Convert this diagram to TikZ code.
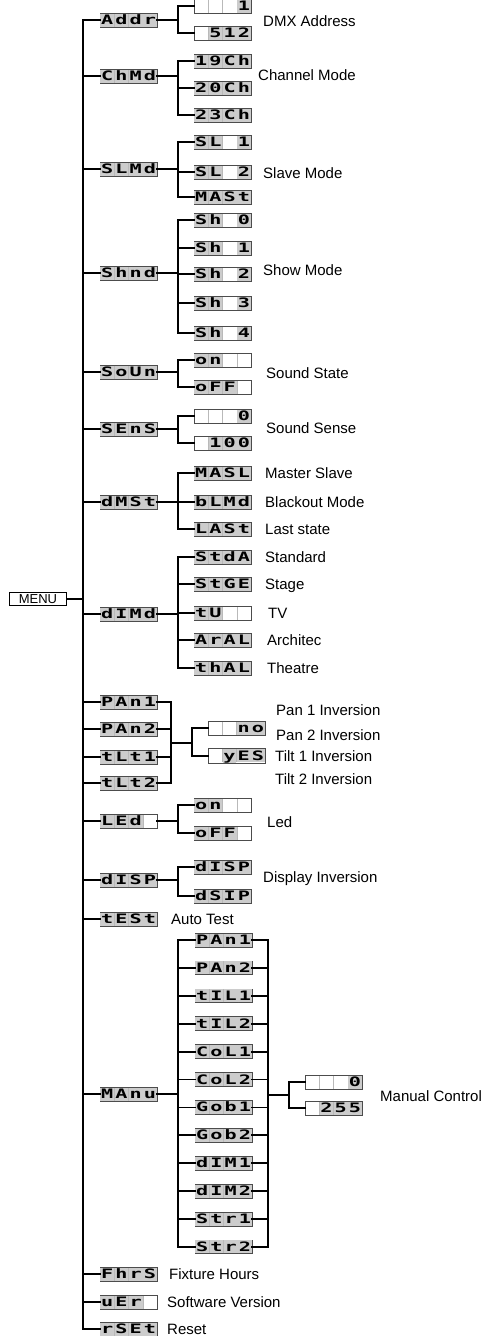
\documentclass[tikz,border=0pt]{standalone}
\usepackage{fontspec}
\usepackage{graphicx}
\setmainfont{Liberation Sans}
\newfontfamily\lcdfont{DejaVu Sans Mono}
\colorlet{lcdbg}{gray!40}

% one display cell, '-' stands for an empty cell
\newcommand{\lcdblank}{\makebox[13.7pt]{\rule[-2pt]{0pt}{13pt}}}
\newcommand{\lcdfull}[1]{{\setlength{\fboxsep}{0pt}\colorbox{lcdbg}{\makebox[13.7pt]{\rule[-2pt]{0pt}{13pt}\lcdfont\bfseries\fontsize{13}{13}\selectfont\scalebox{1.55}[1]{#1}}}}}
\newcommand{\lcdcell}[1]{\ifx-#1\lcdblank\else\lcdfull{#1}\fi}
\newcommand{\lcdsep}{{\color{gray!55}\vrule width 0.5pt height 11pt depth 2pt}}
\newcommand{\lcd}[4]{\lcdcell{#1}\lcdsep\lcdcell{#2}\lcdsep\lcdcell{#3}\lcdsep\lcdcell{#4}}

\tikzset{
  lcd/.style={draw=gray!60!black, line width=0.8pt, inner sep=0.4pt, outer sep=0pt, anchor=west},
  menubox/.style={draw, line width=0.8pt, minimum width=57pt, minimum height=12.5pt, inner sep=0pt,
    font=\fontsize{13}{13}\selectfont, anchor=west},
  wire/.style={line width=1.8pt, line cap=rect},
  lbl/.style={anchor=west, inner sep=0pt, text height=11pt, text depth=0pt,
    font=\fontsize{15}{18}\selectfont},
}

\begin{document}
\begin{tikzpicture}[x=1pt, y=-1pt]
\useasboundingbox (0,0) rectangle (485,1336);
\coordinate (trunk) at (83,0);
\coordinate (bra) at (178,0);

% Menu entry
\node[menubox] (menu) at (9,599) {MENU};

% First level of the menu
\foreach \nm/\yy/\txt in {addr/20/Addr, chmd/76/ChMd, slmd/169/SLMd, shmd/273/Shnd,
  soun/372/SoUn, sens/429/SEnS, dmst/502/dMSt, dimd/614/dIMd, pan1/702/PAn1,
  pan2/729/PAn2, tlt1/757/tLt1, tlt2/783/tLt2, led/821/LEd-, disp/880/dISP,
  test/919/tESt, manu/1094/MAnu, fhrs/1274/FhrS, ver/1302/uEr-, rset/1329/rSEt}
  \node[lcd] (\nm) at (100,\yy) {\expandafter\lcd\txt};

% Main trunk
\draw[wire] (addr.west -| trunk) -- (rset.west -| trunk);
\draw[wire] (menu.east) -- (menu.east -| trunk);
\foreach \nm in {addr,chmd,slmd,shmd,soun,sens,dmst,dimd,pan1,pan2,tlt1,tlt2,
  led,disp,test,manu,fhrs,ver,rset}
  \draw[wire] (\nm.west -| trunk) -- (\nm.west);

% Second level, with its stubs
\foreach \nm/\yy/\txt in {ad1/6/---1, ad512/33/-512, ch19/61/19Ch, ch20/88/20Ch,
  ch23/115/23Ch, sl1/142/SL-1, sl2/172/SL-2, mast/197/MASt, sh0/220/Sh-0,
  sh1/248/Sh-1, sh2/274/Sh-2, sh3/303/Sh-3, sh4/333/Sh-4, son/360/on--,
  soff/387/oFF-, se0/416/---0, se100/443/-100, masl/473/MASL, blmd/502/bLMd,
  lastst/529/LASt, stda/557/StdA, stge/584/StGE, tv/613/tU--, aral/640/ArAL,
  thal/668/thAL, lon/805/on--, loff/833/oFF-, dsp1/867/dISP, dsp2/896/dSIP}
{
  \node[lcd] (\nm) at (194,\yy) {\expandafter\lcd\txt};
  \draw[wire] (\nm.west -| bra) -- (\nm.west);
}

% Manual control channels
\foreach \txt [count=\i] in {PAn1,PAn2,tIL1,tIL2,CoL1,CoL2,Gob1,Gob2,dIM1,dIM2,Str1,Str2}
{
  \node[lcd] (mc\i) at (195,{940+27.9*(\i-1)}) {\expandafter\lcd\txt};
  \draw[wire] (mc\i.west -| bra) -- (mc\i.west);
}

% Branches from first to second level
\foreach \p/\a/\b in {addr/ad1/ad512, chmd/ch19/ch23, slmd/sl1/mast, shmd/sh0/sh4,
  soun/son/soff, sens/se0/se100, dmst/masl/lastst, dimd/stda/thal, led/lon/loff,
  disp/dsp1/dsp2, manu/mc1/mc12}
{
  \draw[wire] (\p.east) -- (\p.east -| bra);
  \draw[wire] (\a.west -| bra) -- (\b.west -| bra);
}

% Pan / tilt inversion
\node[lcd] (inno) at (208,728) {\lcd--no};
\node[lcd] (inyes) at (208,756) {\lcd-yES};
\coordinate (pcol) at (171,743);
\coordinate (pbr) at (192,743);
\foreach \nm in {pan1,pan2,tlt1,tlt2}
  \draw[wire] (\nm.east) -- (\nm.east -| pcol);
\draw[wire] (pan1.east -| pcol) -- (tlt2.east -| pcol);
\draw[wire] (pcol) -- (pbr);
\draw[wire] (inno.west -| pbr) -- (inyes.west -| pbr);
\foreach \c in {inno,inyes}
  \draw[wire] (\c.west -| pbr) -- (\c.west);

% Manual control values
\node[lcd] (mv0) at (305,1082) {\lcd---0};
\node[lcd] (mv255) at (305,1108) {\lcd-255};
\coordinate (mcol) at (268,1095);
\coordinate (mbr) at (289,1095);
\foreach \i in {1,...,12}
  \draw[wire] (mc\i.east) -- (mc\i.east -| mcol);
\draw[wire] (mc1.east -| mcol) -- (mc12.east -| mcol);
\draw[wire] (mcol) -- (mbr);
\draw[wire] (mv0.west -| mbr) -- (mv255.west -| mbr);
\foreach \c in {mv0,mv255}
  \draw[wire] (\c.west -| mbr) -- (\c.west);

% Descriptions
\foreach \nm/\xx/\yy/\txt in {tdmx/263/21/DMX Address, tchm/258/75/Channel Mode,
  tslm/263/173/Slave Mode, tshm/263/270/Show Mode, tsst/266/373/Sound State,
  tsse/266/428/Sound Sense, tmsl/265/473/Master Slave, tblk/265/502/Blackout Mode,
  tlst/265/529/Last state, tstd/265/557/Standard, tstg/265/584/Stage,
  ttv/268/613/TV, tarc/267/640/Architec, tthe/267/668/Theatre,
  tpi1/276/710/Pan 1 Inversion, tpi2/276/735/Pan 2 Inversion,
  tti1/275/756/Tilt 1 Inversion, tti2/275/779/Tilt 2 Inversion,
  tled/267/822/Led, tdsp/263/877/Display Inversion, tat/171/919/Auto Test,
  tman/380/1096/Manual Control, tfh/169/1274/Fixture Hours,
  tsv/167/1302/Software Version, trs/167/1329/Reset}
  \node[lbl] (\nm) at (\xx,\yy) {\txt};
\end{tikzpicture}
\end{document}
